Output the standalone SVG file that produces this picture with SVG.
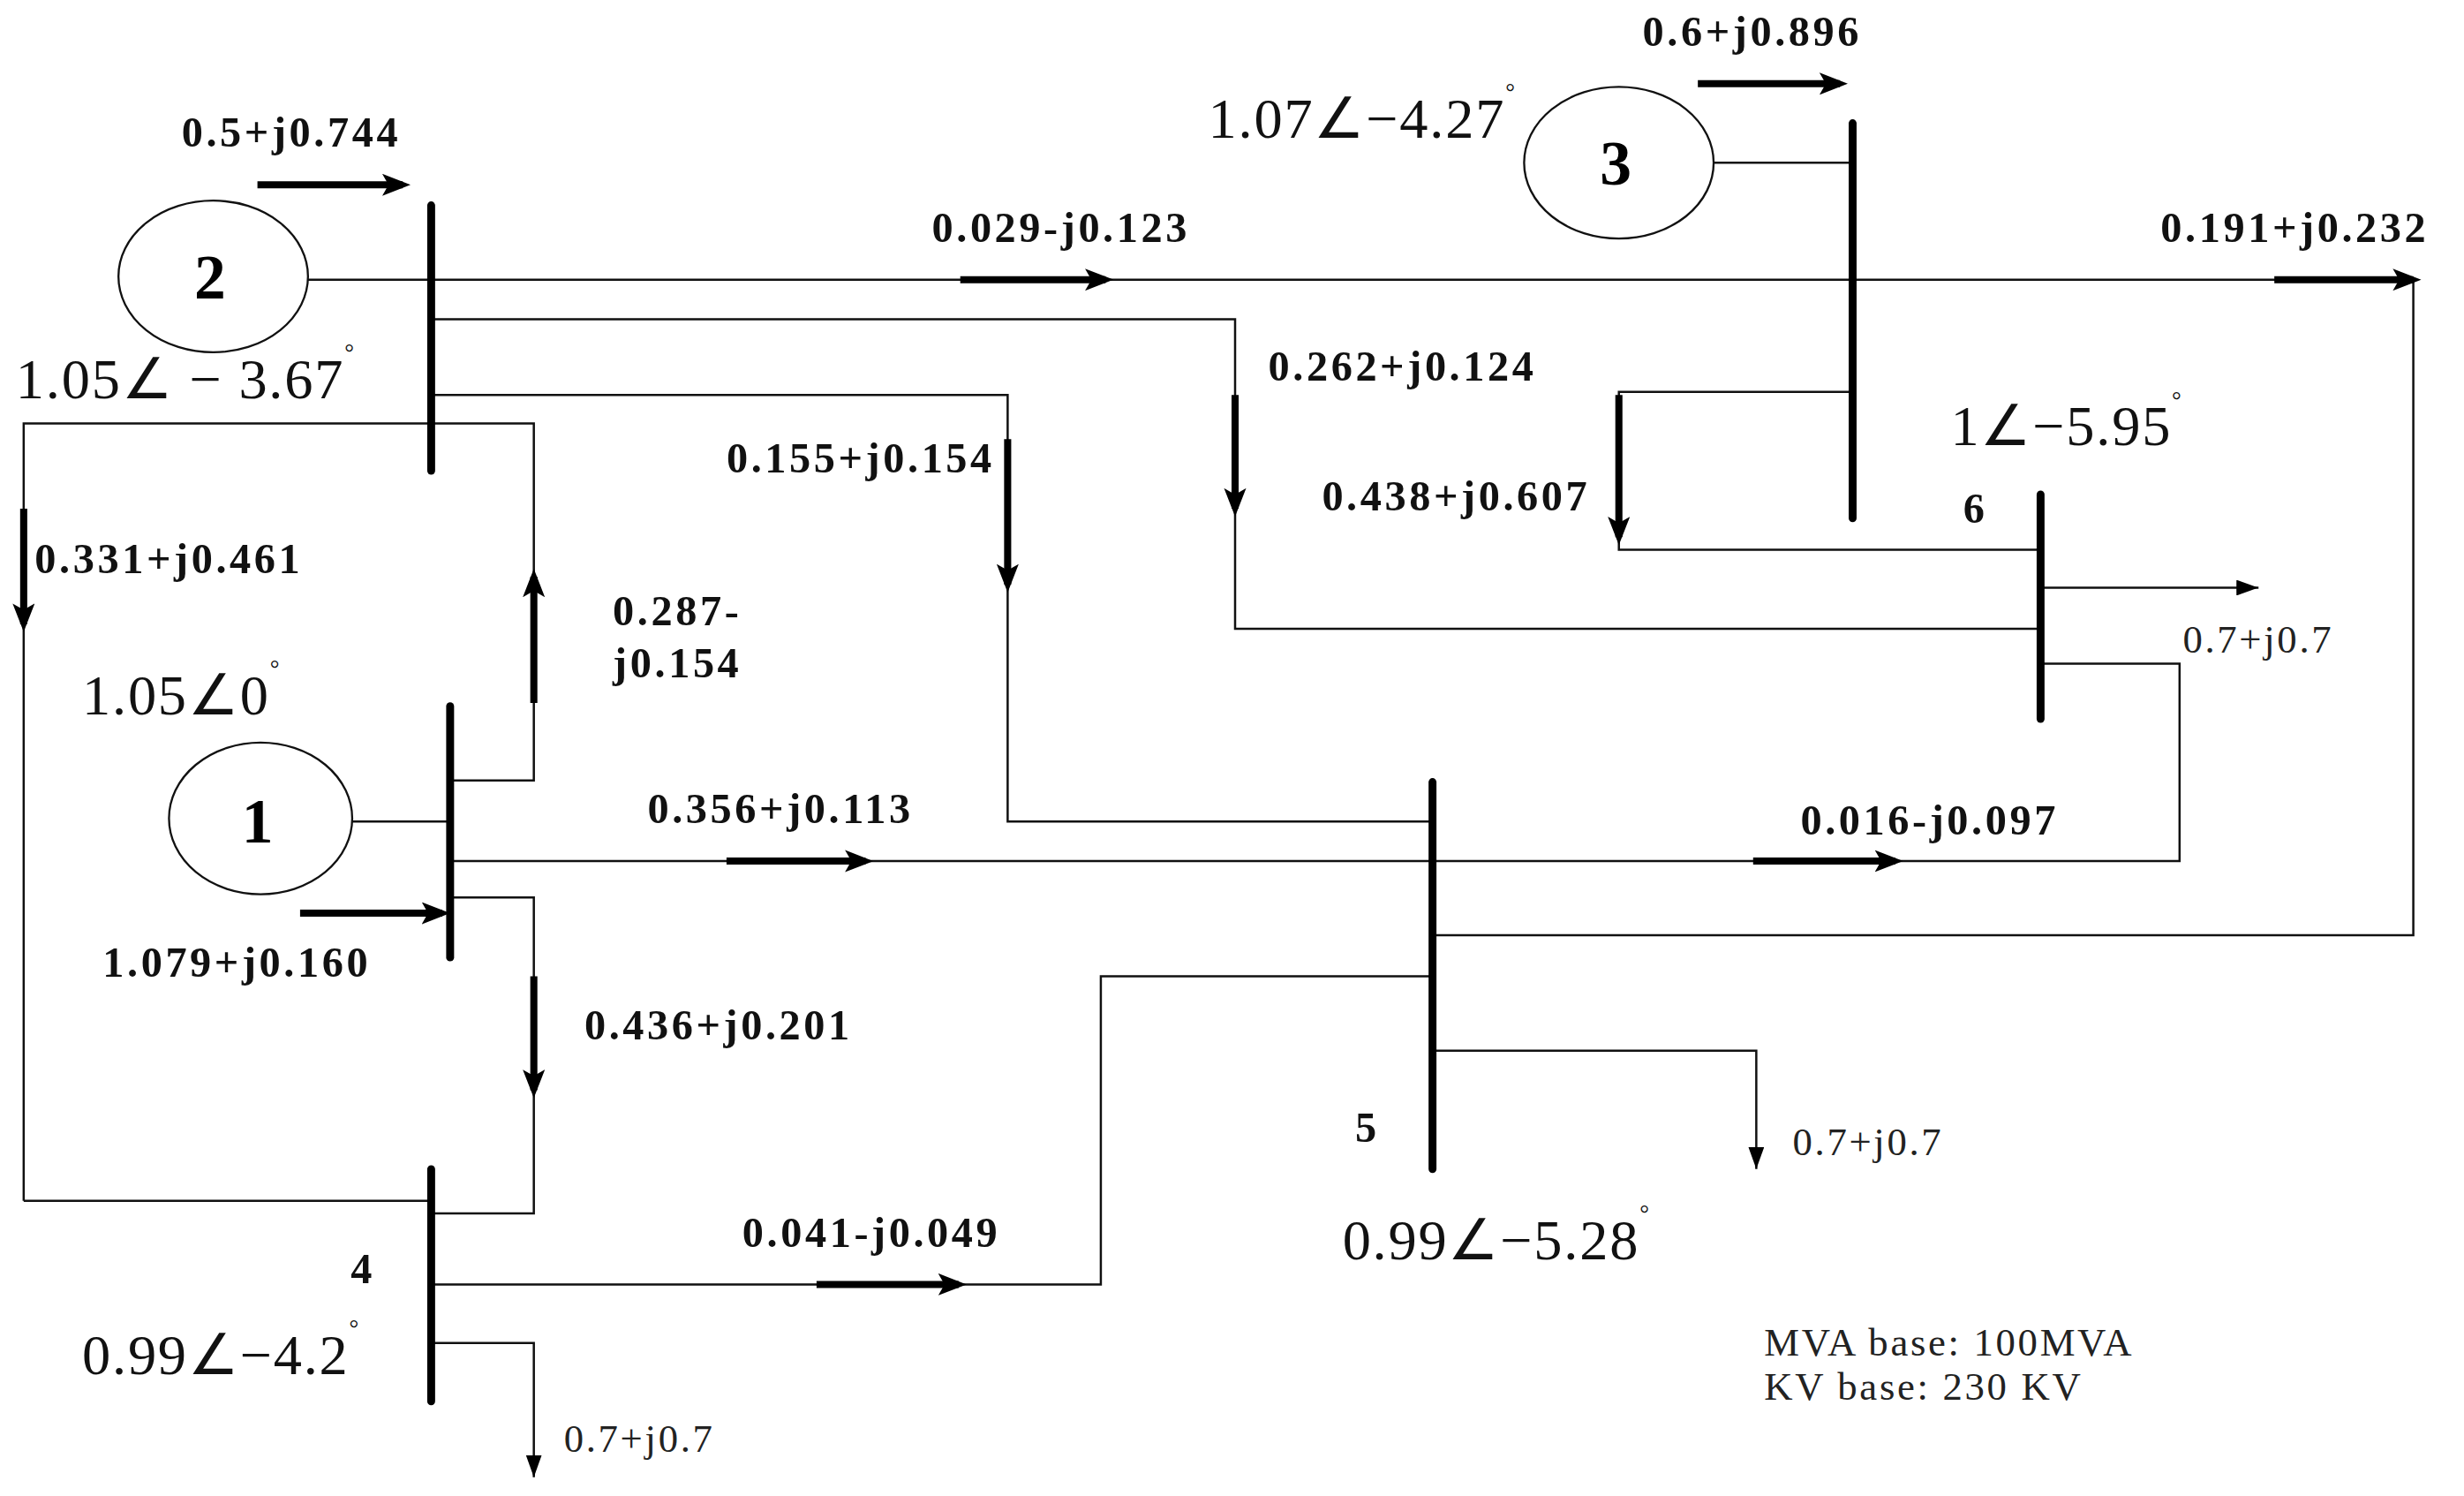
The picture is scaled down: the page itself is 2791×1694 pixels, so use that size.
<svg xmlns="http://www.w3.org/2000/svg" width="2791" height="1694" viewBox="0 0 2791 1694">
<style>
.w{fill:none;stroke:#111;stroke-width:1.4}
.bus{stroke:#000;stroke-width:5;stroke-linecap:round}
.fa{stroke:#000;stroke-width:4.5;fill:none;marker-end:url(#big)}
.la{stroke:#111;stroke-width:1.4;fill:none;marker-end:url(#small)}
.b{font-family:"Liberation Serif",serif;font-weight:bold;font-size:27px;letter-spacing:2px;fill:#111}
.n{font-family:"Liberation Serif",serif;font-size:25px;letter-spacing:1.5px;fill:#222}
.v{font-family:"Liberation Serif",serif;font-size:36px;letter-spacing:1px;fill:#111}
.d{font-size:15px}
.g{fill:#fff;stroke:#111;stroke-width:1.3}
.gn{font-family:"Liberation Serif",serif;font-weight:bold;font-size:40px;text-anchor:middle}
</style>
<defs>
<marker id="big" markerUnits="userSpaceOnUse" viewBox="0 0 18 14" refX="13" refY="7" markerWidth="18" markerHeight="14" orient="auto"><path d="M0,0L18,7L0,14L4,7z" fill="#000"/></marker>
<marker id="small" markerUnits="userSpaceOnUse" viewBox="0 0 14 10" refX="14" refY="5" markerWidth="14" markerHeight="10" orient="auto"><path d="M0,0L14,5L0,10z" fill="#000"/></marker>
</defs>
<rect width="2791" height="1694" fill="#fff"/>
<g transform="scale(1.789)">
<g id="connectors">
<path class="w" d="M195,177H1528V592H907"/>
<path class="w" d="M273,202H782V398H1292"/>
<path class="w" d="M273,250H638V520H907"/>
<path class="w" d="M15,760V268H338V494H285"/>
<path class="w" d="M15,760H273"/>
<path class="w" d="M285,545H1380V420H1292"/>
<path class="w" d="M285,568H338V768H273"/>
<path class="w" d="M273,813H697V618H907"/>
<path class="w" d="M1173,248H1025V348H1292"/>
<path class="w" d="M1085,103H1173"/>
<path class="w" d="M223,520H285"/>
<path class="la" d="M273,850H338V935"/>
<path class="la" d="M907,665H1112V740"/>
<path class="la" d="M1292,372H1430"/>
<path class="fa" d="M163,117H255"/>
<path class="fa" d="M608,177H700"/>
<path class="fa" d="M1440,177H1528"/>
<path class="fa" d="M782,250V322"/>
<path class="fa" d="M638,278V370"/>
<path class="fa" d="M338,445V365"/>
<path class="fa" d="M15,322V395"/>
<path class="fa" d="M190,578H280"/>
<path class="fa" d="M460,545H548"/>
<path class="fa" d="M1110,545H1200"/>
<path class="fa" d="M338,618V690"/>
<path class="fa" d="M517,813H607"/>
<path class="fa" d="M1075,53H1165"/>
<path class="fa" d="M1025,250V340"/>
</g>
<g id="gen2"><ellipse class="g" cx="135" cy="175" rx="60" ry="48"/><text class="gn" x="133" y="189">2</text></g>
<g id="gen1"><ellipse class="g" cx="165" cy="518" rx="58" ry="48"/><text class="gn" x="163" y="533">1</text></g>
<g id="gen3"><ellipse class="g" cx="1025" cy="103" rx="60" ry="48"/><text class="gn" x="1023" y="117">3</text></g>
<g id="bus2"><line class="bus" x1="273" y1="130" x2="273" y2="298"/><text class="v" x="10" y="252">1.05∠ − 3.67<tspan class="d" dy="-24">°</tspan></text></g>
<g id="bus1"><line class="bus" x1="285" y1="447" x2="285" y2="606"/><text class="v" x="52" y="452">1.05∠0<tspan class="d" dy="-24">°</tspan></text></g>
<g id="bus3"><line class="bus" x1="1173" y1="78" x2="1173" y2="328"/><text class="v" x="765" y="87">1.07∠−4.27<tspan class="d" dy="-24">°</tspan></text></g>
<g id="bus4"><line class="bus" x1="273" y1="740" x2="273" y2="887"/><text class="b" x="222" y="812">4</text><text class="v" x="52" y="870">0.99∠−4.2<tspan class="d" dy="-24">°</tspan></text></g>
<g id="bus5"><line class="bus" x1="907" y1="495" x2="907" y2="740"/><text class="b" x="858" y="723">5</text><text class="v" x="850" y="797">0.99∠−5.28<tspan class="d" dy="-24">°</tspan></text></g>
<g id="bus6"><line class="bus" x1="1292" y1="313" x2="1292" y2="455"/><text class="b" x="1243" y="331">6</text><text class="v" x="1235" y="282">1∠−5.95<tspan class="d" dy="-24">°</tspan></text></g>
<g id="labels">
<text class="b" x="115" y="93">0.5+j0.744</text>
<text class="b" x="590" y="153">0.029-j0.123</text>
<text class="b" x="1368" y="153">0.191+j0.232</text>
<text class="b" x="1040" y="29">0.6+j0.896</text>
<text class="b" x="803" y="241">0.262+j0.124</text>
<text class="b" x="460" y="299">0.155+j0.154</text>
<text class="b" x="837" y="323">0.438+j0.607</text>
<text class="b" x="22" y="363">0.331+j0.461</text>
<text class="b" x="388" y="396">0.287-</text>
<text class="b" x="388" y="429">j0.154</text>
<text class="b" x="410" y="521">0.356+j0.113</text>
<text class="b" x="1140" y="528">0.016-j0.097</text>
<text class="b" x="65" y="618">1.079+j0.160</text>
<text class="b" x="370" y="658">0.436+j0.201</text>
<text class="b" x="470" y="789">0.041-j0.049</text>
<text class="n" x="357" y="919">0.7+j0.7</text>
<text class="n" x="1135" y="731">0.7+j0.7</text>
<text class="n" x="1382" y="413">0.7+j0.7</text>
<text class="n" x="1117" y="858">MVA base: 100MVA</text>
<text class="n" x="1117" y="886">KV base: 230 KV</text>
</g>
</g>
</svg>
